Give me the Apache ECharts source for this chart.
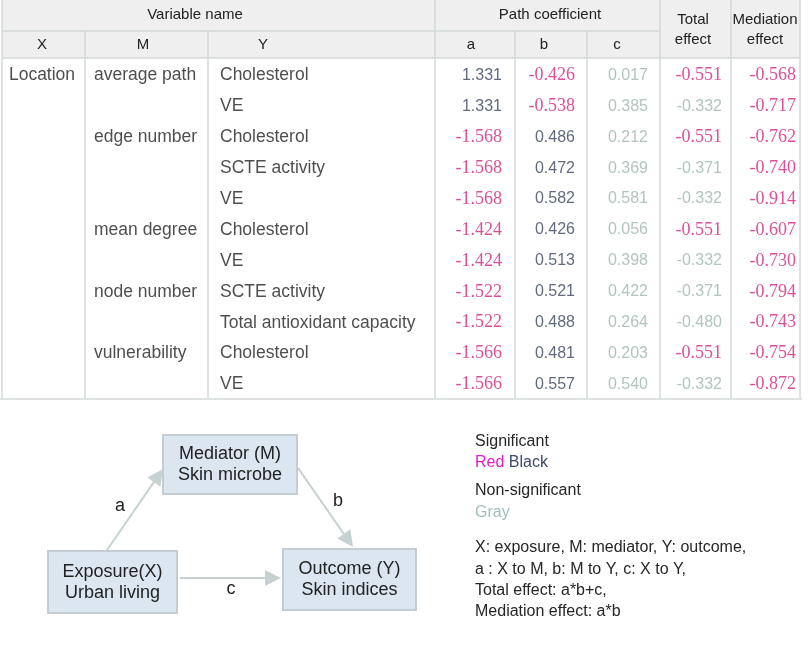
<!DOCTYPE html>
<html><head><meta charset="utf-8">
<script src="https://cdn.jsdelivr.net/npm/echarts@6/dist/echarts.min.js"></script>
<style>html,body{margin:0;padding:0;background:#fff}#c{width:810px;height:667px}</style>
</head><body><div id="c"></div>
<script>
// ---------- data ----------
const exposureVar = ['Location', '', '', '', '', '', '', '', '', '', ''];
const mediatorVar = ['average path', '', 'edge number', '', '', 'mean degree', '', 'node number', '', 'vulnerability', ''];
const outcomeVar = ['Cholesterol', 'VE', 'Cholesterol', 'SCTE activity', 'VE', 'Cholesterol', 'VE', 'SCTE activity', 'Total antioxidant capacity', 'Cholesterol', 'VE'];
const pathA = [1.331, 1.331, -1.568, -1.568, -1.568, -1.424, -1.424, -1.522, -1.522, -1.566, -1.566];
const pathB = [-0.426, -0.538, 0.486, 0.472, 0.582, 0.426, 0.513, 0.521, 0.488, 0.481, 0.557];
const pathC = [0.017, 0.385, 0.212, 0.369, 0.581, 0.056, 0.398, 0.422, 0.264, 0.203, 0.540];
const totalEffect = [-0.551, -0.332, -0.551, -0.371, -0.332, -0.551, -0.332, -0.371, -0.480, -0.551, -0.332];
const mediationEffect = [-0.568, -0.717, -0.762, -0.740, -0.914, -0.607, -0.730, -0.794, -0.743, -0.754, -0.872];
// significance flags (1 = significant, 0 = non-significant)
const sigA = [1, 1, 1, 1, 1, 1, 1, 1, 1, 1, 1];
const sigB = [1, 1, 1, 1, 1, 1, 1, 1, 1, 1, 1];
const sigC = [0, 0, 0, 0, 0, 0, 0, 0, 0, 0, 0];
const sigTotal = [1, 0, 1, 0, 0, 1, 0, 0, 0, 1, 0];
const sigMediation = [1, 1, 1, 1, 1, 1, 1, 1, 1, 1, 1];
const rowIds = outcomeVar.map((_, i) => 'r' + i);

// ---------- styles / layout ----------
const RED = '#d2267f', NAVY = '#3a4560', GRAY = '#9fb5b0', TXT = '#222222';
const LINE = '#d3d9d9', HEADBG = '#efefef';
const SANS = '"Liberation Sans", Arial, sans-serif';
const SERIF = '"Liberation Serif", "Times New Roman", serif';
const colAnchor = { X: 42, M: 94, Y: 220, a: 502, b: 575, c: 648, total: 722, med: 796 };
const vLinesFull = [435, 660, 731, 800];
const vLinesRow2 = [85, 208, 515, 587];
const tableBottom = 399;

function textSeries(vals, x, pos) {
  return {
    type: 'scatter', symbolSize: 0, silent: true,
    data: vals.map((v, i) => ({ value: [x, rowIds[i], v] })),
    label: {
      show: true, position: pos, distance: 0,
      formatter: p => p.value[2], color: TXT, fontFamily: SANS, fontSize: 17.5
    }
  };
}
function numSeries(vals, sig, x) {
  return {
    type: 'scatter', symbolSize: 0, silent: true,
    data: vals.map((v, i) => {
      let color, ff, fs;
      if (!sig[i]) { color = GRAY; ff = SANS; fs = 16; }
      else if (v < 0) { color = RED; ff = SERIF; fs = 18; }
      else { color = NAVY; ff = SANS; fs = 16; }
      return { value: [x, rowIds[i], v], label: { color: color, fontFamily: ff, fontSize: fs } };
    }),
    label: { show: true, position: 'left', distance: 0, formatter: p => p.value[2].toFixed(3) }
  };
}

// ---------- table frame + diagram (decoration) ----------
const g = [];
g.push({ type: 'rect', shape: { x: 2, y: 0, width: 798, height: 58 }, style: { fill: HEADBG }, silent: true });
function ln(x1, y1, x2, y2, c, w) { g.push({ type: 'line', shape: { x1, y1, x2, y2 }, style: { stroke: c || LINE, lineWidth: w || 1.5 }, silent: true }); }
ln(2, 0, 2, tableBottom);
vLinesFull.forEach(x => ln(x, 0, x, tableBottom));
vLinesRow2.forEach(x => ln(x, 31, x, tableBottom));
ln(2, 31, 660, 31);
ln(2, 58, 800, 58);
ln(0, tableBottom, 802, tableBottom);
function tx(text, x, y, opt) {
  g.push({ type: 'text', x: x, y: y, silent: true,
    style: Object.assign({ text: text, fill: TXT, font: '15px ' + SANS, textAlign: 'center', textVerticalAlign: 'middle' }, opt || {}) });
}
tx('Variable name', 195, 15);
tx('Path coefficient', 550, 15);
tx('Total', 693, 20); tx('effect', 693, 40);
tx('Mediation', 765, 20); tx('effect', 765, 40);
tx('X', 42, 45); tx('M', 143, 45); tx('Y', 263, 45);
tx('a', 471, 45); tx('b', 544, 45); tx('c', 617, 45);

// diagram
const ARW = '#c8d1d1';
function arrow(x1, y1, x2, y2) {
  const dx = x2 - x1, dy = y2 - y1, L = Math.hypot(dx, dy), ux = dx / L, uy = dy / L;
  const hl = 16, hw = 8;
  const bx = x2 - ux * hl, by = y2 - uy * hl;
  ln(x1, y1, bx, by, ARW, 2);
  g.push({ type: 'polygon', silent: true, shape: { points: [[x2, y2], [bx - uy * hw, by + ux * hw], [bx + uy * hw, by - ux * hw]] }, style: { fill: ARW } });
}
function box(x, y, w, h, l1, l2) {
  g.push({ type: 'rect', silent: true, shape: { x, y, width: w, height: h }, style: { fill: '#dce6f0', stroke: '#c6cdd2', lineWidth: 2 } });
  tx(l1, x + w / 2, y + h / 2 - 10, { font: '18px ' + SANS });
  tx(l2, x + w / 2, y + h / 2 + 11, { font: '18px ' + SANS });
}
arrow(107, 550, 163, 469);
arrow(298, 468, 353, 547);
arrow(180, 578, 281, 578);
box(163, 435, 134, 59, 'Mediator (M)', 'Skin microbe');
box(48, 551, 129, 62, 'Exposure(X)', 'Urban living');
box(283, 549, 133, 61, 'Outcome (Y)', 'Skin indices');
tx('a', 120, 506, { font: '18px ' + SANS });
tx('b', 338, 501, { font: '18px ' + SANS });
tx('c', 231, 589, { font: '18px ' + SANS });

// legend text
const L = { textAlign: 'left', font: '16px ' + SANS, fill: '#262626' };
tx('Significant', 475, 442, L);
g.push({ type: 'text', x: 475, y: 463, silent: true, style: { text: '{r|Red} {k|Black}', textVerticalAlign: 'middle', font: '16px ' + SANS,
  rich: { r: { fill: '#e01fc8', font: '16px ' + SANS }, k: { fill: '#3c4a6c', font: '16px ' + SANS } } } });
tx('Non-significant', 475, 491, L);
tx('Gray', 475, 513, Object.assign({}, L, { fill: '#a3bcbc' }));
tx('X: exposure, M: mediator, Y: outcome,', 475, 548, L);
tx('a : X to M, b: M to Y, c: X to Y,', 475, 570, L);
tx('Total effect: a*b+c,', 475, 591, L);
tx('Mediation effect: a*b', 475, 612, L);

const chart = echarts.init(document.getElementById('c'), null, { renderer: 'canvas' });
chart.setOption({
  animation: false,
  backgroundColor: '#ffffff',
  grid: { left: 0, right: 0, top: 60, height: 340 },
  xAxis: { type: 'value', min: 0, max: 810, show: false },
  yAxis: { type: 'category', data: rowIds, inverse: true, show: false },
  graphic: g,
  series: [
    textSeries(exposureVar, colAnchor.X, 'inside'),
    textSeries(mediatorVar, colAnchor.M, 'right'),
    textSeries(outcomeVar, colAnchor.Y, 'right'),
    numSeries(pathA, sigA, colAnchor.a),
    numSeries(pathB, sigB, colAnchor.b),
    numSeries(pathC, sigC, colAnchor.c),
    numSeries(totalEffect, sigTotal, colAnchor.total),
    numSeries(mediationEffect, sigMediation, colAnchor.med)
  ]
});
</script></body></html>
